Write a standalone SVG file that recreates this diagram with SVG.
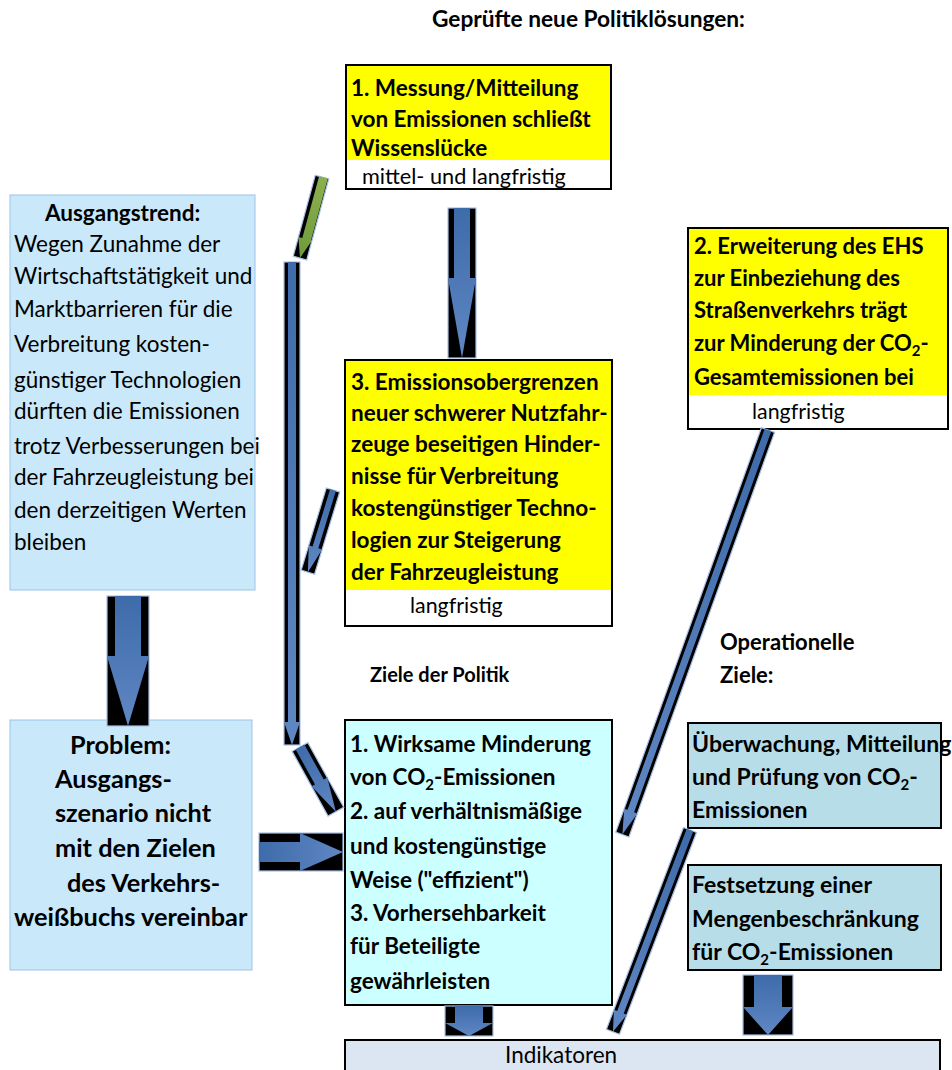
<svg xmlns="http://www.w3.org/2000/svg" width="952" height="1070" viewBox="0 0 952 1070" font-size="22.5">
<defs>
<linearGradient id="bg" x1="0" y1="0" x2="0" y2="1">
<stop offset="0" stop-color="#3E6BAA"/>
<stop offset="1" stop-color="#5F87C3"/>
</linearGradient>
<linearGradient id="gg" x1="0" y1="0" x2="0" y2="1">
<stop offset="0" stop-color="#8DB04F"/>
<stop offset="1" stop-color="#6E9A3C"/>
</linearGradient>
</defs>
<style>
.t{font-family:Lato,Carlito,"Liberation Sans",sans-serif;fill:#000}
.b{font-weight:bold}
.r{font-weight:normal}
.box{stroke:#000;stroke-width:2}
.lb{fill:#C9E8FA;stroke:#9CC3E5;stroke-width:1}
.ab{fill:#000;stroke:#A9C1E6;stroke-width:1.2}
.af{fill:url(#bg)}
.ag{fill:url(#gg)}
</style>

<text class="t b" x="432" y="27" font-size="22.7">Geprüfte neue Politiklösungen:</text>

<g id="massnahme1">
<rect x="346" y="65" width="265" height="124" fill="#fff" class="box"/>
<rect x="347" y="66" width="263" height="94" fill="#FFFF00"/>
<text class="t b" x="351" y="96">1. Messung/Mitteilung</text>
<text class="t b" x="351" y="127">von Emissionen schließt</text>
<text class="t b" x="351" y="156">Wissenslücke</text>
<text class="t r" x="362" y="184" font-size="21.7">mittel- und langfristig</text>
</g>

<g id="massnahme2">
<rect x="688" y="228" width="260" height="201" fill="#fff" class="box"/>
<rect x="689" y="229" width="258" height="166" fill="#FFFF00"/>
<text class="t b" x="694" y="254" font-size="22">2. Erweiterung des EHS</text>
<text class="t b" x="694" y="286" font-size="22">zur Einbeziehung des</text>
<text class="t b" x="694" y="318" font-size="22">Straßenverkehrs trägt</text>
<text class="t b" x="694" y="351" font-size="22">zur Minderung der CO<tspan dy="5" font-size="15">2</tspan><tspan dy="-5">-</tspan></text>
<text class="t b" x="694" y="385" font-size="22">Gesamtemissionen bei</text>
<text class="t r" x="752" y="419" font-size="21.4">langfristig</text>
</g>

<g id="massnahme3">
<rect x="345" y="360" width="267" height="266" fill="#fff" class="box"/>
<rect x="346" y="361" width="265" height="229" fill="#FFFF00"/>
<text class="t b" x="351" y="390">3. Emissionsobergrenzen</text>
<text class="t b" x="351" y="421">neuer schwerer Nutzfahr-</text>
<text class="t b" x="351" y="452">zeuge beseitigen Hinder-</text>
<text class="t b" x="351" y="484">nisse für Verbreitung</text>
<text class="t b" x="351" y="516">kostengünstiger Techno-</text>
<text class="t b" x="351" y="548">logien zur Steigerung</text>
<text class="t b" x="351" y="580">der Fahrzeugleistung</text>
<text class="t r" x="410" y="613" font-size="21.4">langfristig</text>
</g>

<g id="ausgangstrend">
<rect x="10" y="195" width="245" height="395" class="lb"/>
<text class="t b" x="45" y="221">Ausgangstrend:</text>
<text class="t r" x="14" y="252">Wegen Zunahme der</text>
<text class="t r" x="14" y="284">Wirtschaftstätigkeit und</text>
<text class="t r" x="14" y="317">Marktbarrieren für die</text>
<text class="t r" x="14" y="352">Verbreitung kosten-</text>
<text class="t r" x="14" y="388">günstiger Technologien</text>
<text class="t r" x="14" y="419">dürften die Emissionen</text>
<text class="t r" x="14" y="454">trotz Verbesserungen bei</text>
<text class="t r" x="14" y="485">der Fahrzeugleistung bei</text>
<text class="t r" x="14" y="518">den derzeitigen Werten</text>
<text class="t r" x="14" y="550">bleiben</text>
</g>

<g id="problem">
<rect x="10" y="720" width="242" height="250" class="lb"/>
<g class="t b" font-size="25.3">
<text x="70" y="754">Problem:</text>
<text x="55" y="788">Ausgangs-</text>
<text x="55" y="822">szenario nicht</text>
<text x="55" y="857">mit den Zielen</text>
<text x="67" y="892">des Verkehrs-</text>
<text x="14" y="926">weißbuchs vereinbar</text>
</g>
</g>

<text class="t b" x="370" y="682" font-size="20">Ziele der Politik</text>
<text class="t b" x="720" y="650" font-size="22">Operationelle</text>
<text class="t b" x="720" y="683" font-size="22">Ziele:</text>

<g id="ziele">
<rect x="345" y="720" width="267" height="285" fill="#CCFFFF" class="box"/>
<text class="t b" x="350" y="752">1. Wirksame Minderung</text>
<text class="t b" x="350" y="785">von CO<tspan dy="5" font-size="15">2</tspan><tspan dy="-5">-Emissionen</tspan></text>
<text class="t b" x="350" y="819">2. auf verhältnismäßige</text>
<text class="t b" x="350" y="854">und kostengünstige</text>
<text class="t b" x="350" y="888">Weise ("effizient")</text>
<text class="t b" x="350" y="921">3. Vorhersehbarkeit</text>
<text class="t b" x="350" y="954">für Beteiligte</text>
<text class="t b" x="350" y="989">gewährleisten</text>
</g>

<g id="op1">
<rect x="688" y="723" width="253" height="105" fill="#B7DEE8" class="box"/>
<text class="t b" x="692" y="752" font-size="23">Überwachung, Mitteilung</text>
<text class="t b" x="692" y="785" font-size="23">und Prüfung von CO<tspan dy="5" font-size="15">2</tspan><tspan dy="-5">-</tspan></text>
<text class="t b" x="692" y="818" font-size="23">Emissionen</text>
</g>

<g id="op2">
<rect x="688" y="865" width="253" height="105" fill="#B7DEE8" class="box"/>
<text class="t b" x="692" y="893" font-size="23">Festsetzung einer</text>
<text class="t b" x="692" y="927" font-size="23">Mengenbeschränkung</text>
<text class="t b" x="692" y="960" font-size="23">für CO<tspan dy="5" font-size="15">2</tspan><tspan dy="-5">-Emissionen</tspan></text>
</g>

<g id="indikatoren">
<rect x="345" y="1040" width="595" height="40" fill="#DCE6F2" class="box"/>
<text class="t r" x="505" y="1063">Indikatoren</text>
</g>

<g id="connectors">
<g transform="translate(322,177) rotate(15.2)">
<rect class="ab" x="-7" y="0" width="14" height="84"/>
<polygon class="ag" points="-3,0 6,0 6,64 7,64 0,84 -7,64 -3,64"/>
</g>
<g transform="translate(292,262)">
<rect class="ab" x="-8" y="0" width="16" height="483"/>
<polygon class="af" points="-4,0 4,0 4,460 8,460 0,483 -8,460 -4,460"/>
</g>
<g transform="translate(333,490) rotate(17)">
<rect class="ab" x="-7" y="0" width="14" height="86"/>
<polygon class="af" points="-3,0 3,0 3,60 7,60 0,86 -7,60 -3,60"/>
</g>
<g transform="translate(300,747) rotate(-29)">
<rect class="ab" x="-9" y="0" width="18" height="74"/>
<polygon class="af" points="-5,0 5,0 5,40 9,40 0,74 -9,40 -5,40"/>
</g>
<g transform="translate(462,208)">
<rect class="ab" x="-14" y="0" width="28" height="150"/>
<polygon class="af" points="-8,0 8,0 8,70 14,70 0,150 -14,70 -8,70"/>
</g>
<g transform="translate(128,596)">
<rect class="ab" x="-21" y="0" width="42" height="130"/>
<polygon class="af" points="-13,0 13,0 13,60 21,60 0,130 -21,60 -13,60"/>
</g>
<g transform="translate(259,852) rotate(-90)">
<rect class="ab" x="-19" y="0" width="38" height="84"/>
<polygon class="af" points="-10,0 10,0 10,41 19,41 0,84 -19,41 -10,41"/>
</g>
<g transform="translate(768,430) rotate(19.8)">
<rect class="ab" x="-7" y="0" width="14" height="430"/>
<polygon class="af" points="-3.5,0 3.5,0 3.5,405 7,405 0,430 -7,405 -3.5,405"/>
</g>
<g transform="translate(690,830) rotate(20.9)">
<rect class="ab" x="-7" y="0" width="14" height="216"/>
<polygon class="af" points="-3.5,0 3.5,0 3.5,195 7,195 0,216 -7,195 -3.5,195"/>
</g>
<g transform="translate(469,1006)">
<rect class="ab" x="-24" y="0" width="48" height="30"/>
<polygon class="af" points="-14,0 14,0 14,17 24,17 0,30 -24,17 -14,17"/>
</g>
<g transform="translate(768,975)">
<rect class="ab" x="-25" y="0" width="50" height="60"/>
<polygon class="af" points="-14,0 14,0 14,32 25,32 0,60 -25,32 -14,32"/>
</g>
</g>
</svg>
